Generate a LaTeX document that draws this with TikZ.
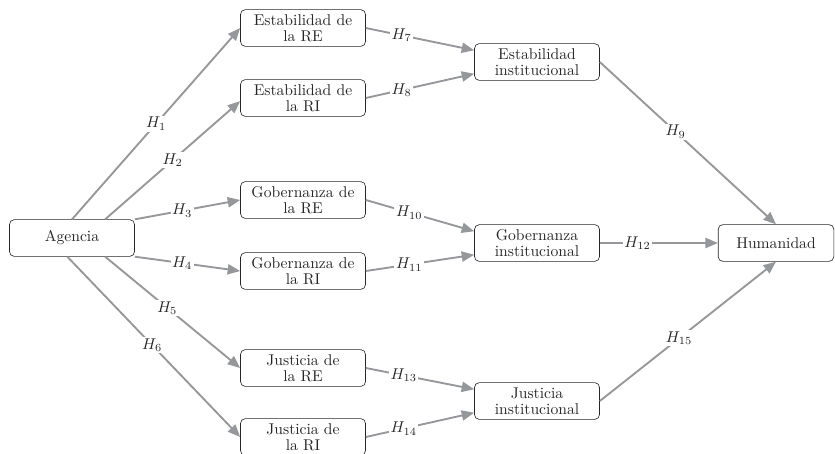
\documentclass[tikz,border=0pt]{standalone}
\usepackage{xcolor}
\usepackage{amsmath}
\usepackage{tikz}
\usetikzlibrary{arrows.meta,positioning}

\definecolor{linkgray}{RGB}{150,151,155}
\tikzset{
    box/.style={draw=black!85,rounded corners=3pt,minimum width=80pt,minimum height=23.5pt,
        align=center,inner sep=1pt,text=black!85,font=\fontsize{10}{10.5}\selectfont},
    link/.style={draw=linkgray,line width=1.2pt,-{Triangle[length=8pt,width=6.5pt]}},
    hyp/.style={fill=white,inner sep=1pt,text=black!85,pos=#1},
    hyp/.default=.5
}

\begin{document}
\begin{tikzpicture}[x=0.64pt,y=-0.64pt]
    \useasboundingbox (0,0) rectangle (835,453);
    \path
        (72,238)  node [box] (agencia) {Agencia}
        (303,28)  node [box] (estre) {Estabilidad de\\la RE}
        (303,98)  node [box] (estri) {Estabilidad de\\la RI}
        (303,200) node [box] (gobre) {Gobernanza de\\la RE}
        (303,271) node [box] (gobri) {Gobernanza de\\la RI}
        (303,368) node [box] (jusre) {Justicia de\\la RE}
        (303,437) node [box] (jusri) {Justicia de\\la RI}
        (537,62)  node [box] (estinst) {Estabilidad\\institucional}
        (537,243) node [box] (gobinst) {Gobernanza\\institucional}
        (537,401) node [box] (jusinst) {Justicia\\institucional}
        (776,243) node [box,minimum width=74pt] (human) {Humanidad}
        ;
    \draw [link] (agencia.north) -- node [hyp]{$H_{1}$} (estre.west);
    \draw [link] ([xshift=-19pt]agencia.north east) -- node [hyp]{$H_{2}$} ([yshift=-2pt]estri.west);
    \draw [link] (agencia.north east) -- node [hyp=.45]{$H_{3}$} (gobre.west);
    \draw [link] (agencia.south east) -- node [hyp=.45]{$H_{4}$} (gobri.west);
    \draw [link] ([xshift=-19pt]agencia.south east) -- node [hyp=.46]{$H_{5}$} (jusre.west);
    \draw [link] ([xshift=-3pt]agencia.south) -- node [hyp=.49]{$H_{6}$} (jusri.west);
    \draw [link] (estre.east) -- node [hyp=.33]{$H_{7}$} ([yshift=7.5pt]estinst.west);
    \draw [link] (estri.east) -- node [hyp=.33]{$H_{8}$} ([yshift=-7.5pt]estinst.west);
    \draw [link] (gobre.east) -- node [hyp=.4]{$H_{10}$} ([yshift=7.5pt]gobinst.west);
    \draw [link] (gobri.east) -- node [hyp=.4]{$H_{11}$} ([yshift=-7.5pt]gobinst.west);
    \draw [link] (jusre.east) -- node [hyp=.35]{$H_{13}$} ([yshift=7.5pt]jusinst.west);
    \draw [link] (jusri.east) -- node [hyp=.35]{$H_{14}$} ([yshift=-7.5pt]jusinst.west);
    \draw [link] (estinst.east) -- node [hyp=.43]{$H_{9}$} (human.north);
    \draw [link] (gobinst.east) -- node [hyp=.32]{$H_{12}$} (human.west);
    \draw [link] (jusinst.east) -- node [hyp=.45]{$H_{15}$} (human.south);
\end{tikzpicture}
\end{document}
